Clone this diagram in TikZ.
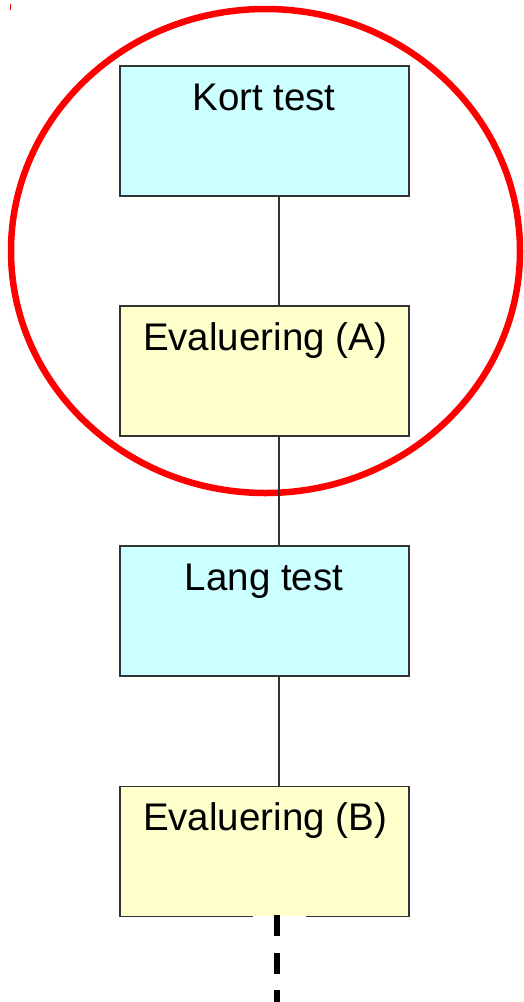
\documentclass[tikz,border=0pt]{standalone}
\usepackage{fontspec}
\setmainfont{Liberation Sans}
\definecolor{cyanfill}{HTML}{CCFFFF}
\definecolor{yellowfill}{HTML}{FFFFCC}
\definecolor{edge}{HTML}{333333}
\begin{document}
\begin{tikzpicture}[x=1pt,y=-1pt,
  box/.style={draw=edge, line width=1.8pt, minimum width=289pt, minimum height=130pt, inner sep=0pt, anchor=north west},
  cyanbox/.style={box, fill=cyanfill},
  yellowbox/.style={box, fill=yellowfill},
  lbl/.style={font=\fontsize{38.5}{42}\selectfont, anchor=base, inner sep=0pt},
  conn/.style={draw=edge, line width=1.8pt},
  ring/.style={draw=red, line width=6.5pt}]
\useasboundingbox (0,0) rectangle (524,1002);
% red ring
\draw[ring] (265.5,251) ellipse [x radius=254.5, y radius=242];
\draw[red, line width=1pt] (10,4) -- (10,10);
% boxes
\node[cyanbox] (kort) at (119,65) {};
\node[yellowbox] (evalA) at (119,305) {};
\node[cyanbox] (lang) at (119,545) {};
\node[yellowbox] (evalB) at (119,785.5) {};
% labels
\node[lbl] (tkort) at (264,110) {Kort test};
\node[lbl] (tevalA) at (265,350) {Evaluering (A)};
\node[lbl] (tlang) at (264,590) {Lang test};
\node[lbl] (tevalB) at (265,830.5) {Evaluering (B)};
% connectors
\coordinate (lx) at (279,0);
\draw[conn] (kort.south -| lx) -- (evalA.north -| lx);
\draw[conn] (evalA.south -| lx) -- (lang.north -| lx);
\draw[conn] (lang.south -| lx) -- (evalB.north -| lx);
% dashed continuation
\coordinate (dx) at (277,0);
\coordinate (dend) at (277,1004);
\draw[white, line width=3pt] ([xshift=-24pt]evalB.south -| dx) -- ([xshift=29pt]evalB.south -| dx);
\draw[line width=5.5pt, dash pattern=on 21pt off 16.5pt] ([yshift=2pt]evalB.south -| dx) -- (dend);
\end{tikzpicture}
\end{document}
